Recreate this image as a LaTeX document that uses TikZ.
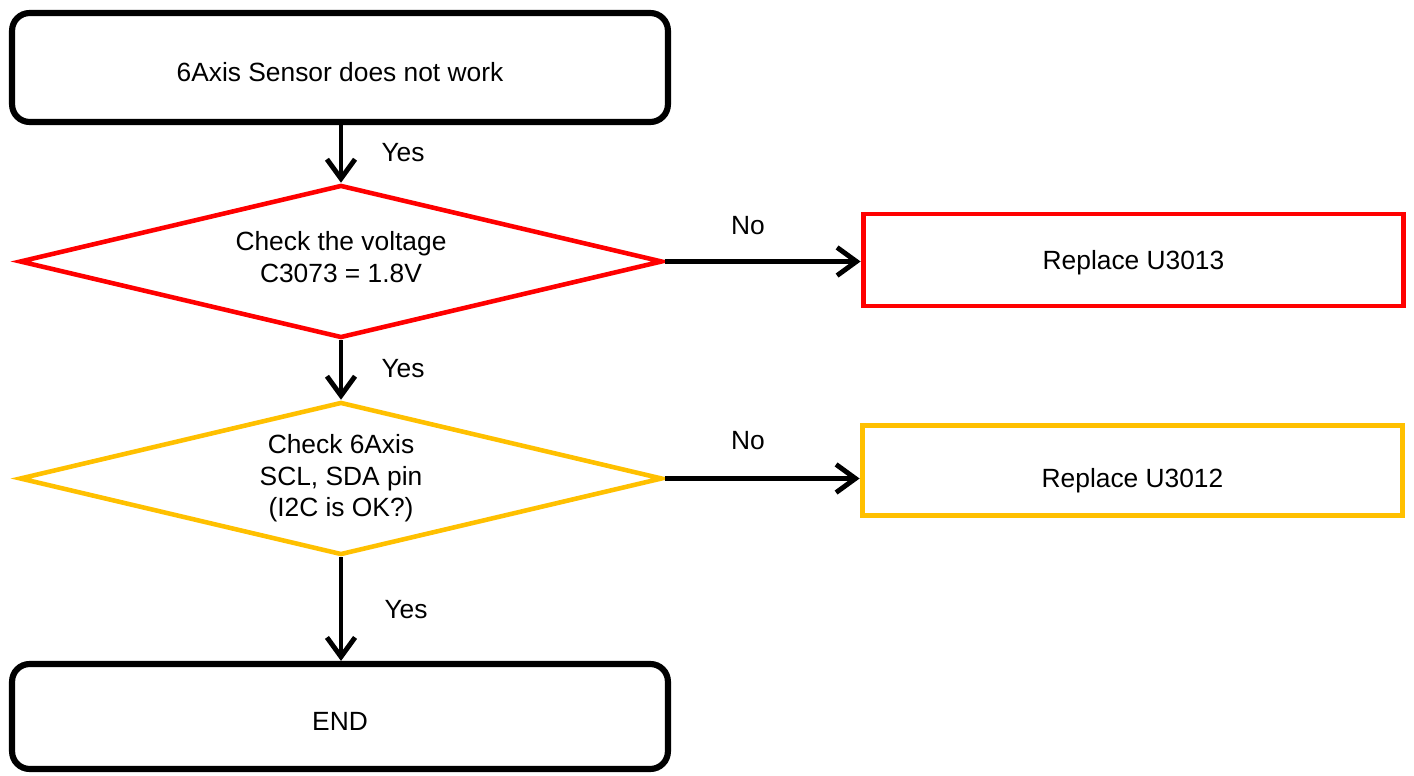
\documentclass[tikz,border=0pt]{standalone}
\usepackage{fontspec}
\setmainfont{Liberation Sans}
\usetikzlibrary{shapes.geometric,arrows.meta}
\definecolor{alertred}{HTML}{FF0000}
\definecolor{warnyellow}{HTML}{FFC000}
\begin{document}
\begin{tikzpicture}[x=.02cm,y=-.02cm,
    font=\fontsize{15}{18}\selectfont,
    endbox/.style={draw,line width=3.5pt,rounded corners=10pt,minimum width=13.12cm,minimum height=2.18cm,text height=19.9pt,text depth=4pt},
    check/.style={draw,diamond,aspect=4.2,line width=2.6pt,align=center,inner sep=0pt,minimum width=12.86cm,minimum height=3.06cm},
    fixbox/.style={draw,line width=2.8pt,minimum width=10.82cm,minimum height=1.84cm,text height=14.8pt,text depth=4pt},
    flow/.style={-{Straight Barb[length=11pt,width=16pt]},line width=2.8pt}]
      \useasboundingbox (0,0) rectangle (1414,776);
      \node[endbox] (start) at (340,67.5) {6Axis Sensor does not work};
      \node[check,draw=alertred,text depth=5pt] (volt) at (341,261.5) {Check the voltage\\C3073 = 1.8V};
      \node[check,draw=warnyellow] (bus) at (341,478.5) {Check 6Axis\\SCL, SDA pin\\(I2C is OK?)};
      \node[endbox,minimum height=2.1cm] (end) at (340,716.5) {END};
      \node[fixbox,draw=alertred] (u3013) at (1133.5,260) {Replace U3013};
      \node[fixbox,draw=warnyellow,minimum height=1.8cm,text height=23.3pt] (u3012) at (1132.5,470.5) {Replace U3012};
      \draw[flow] (start.south -| volt.north) -- (volt);
      \draw[flow] (volt) -- (bus);
      \draw[flow] (bus) -- (bus |- end.north);
      \draw[flow] (volt.east) -- (volt.east -| u3013.west);
      \draw[flow] (bus.east) -- (bus.east -| u3012.west);
      \node (yes1) at (403,153) {Yes};
      \node (yes2) at (403,369) {Yes};
      \node (yes3) at (406,610) {Yes};
      \node (no1) at (748,226) {No};
      \node (no2) at (748,441) {No};
    \end{tikzpicture}
\end{document}
